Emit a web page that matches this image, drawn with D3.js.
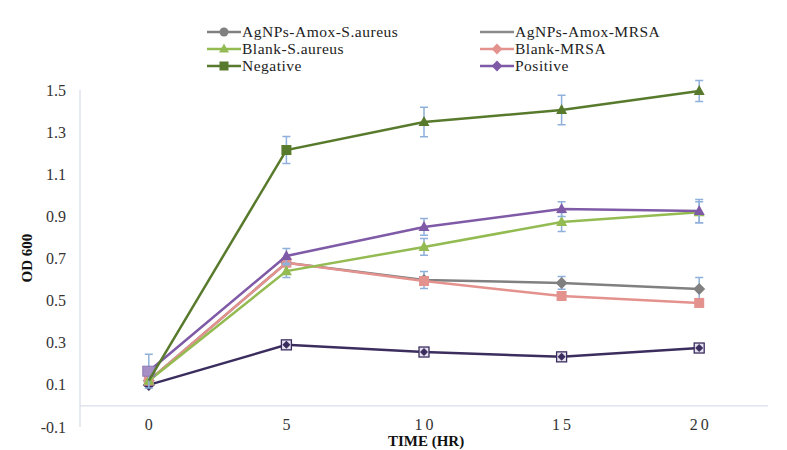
<!DOCTYPE html>
<html><head><meta charset="utf-8">
<script src="https://cdn.jsdelivr.net/npm/d3@7"></script>
<style>
body{margin:0;background:#fff;}
svg{display:block;font-family:"Liberation Serif","Times New Roman",serif;}
</style></head>
<body><svg id="c" width="787" height="450"></svg>
<script>
const categories = ["0","5","10","15","20"];
const yTicks = [-0.1,0.1,0.3,0.5,0.7,0.9,1.1,1.3,1.5];
const seriesNames = ["AgNPs-Amox-S.aureus","AgNPs-Amox-MRSA","Blank-S.aureus","Blank-MRSA","Negative","Positive"];
const agSaValues   = [0.12, 0.68, 0.598, 0.584, 0.555];
const agMrsaValues = [0.10, 0.29, 0.256, 0.233, 0.275];
const blankSaValues   = [0.12, 0.64, 0.755, 0.873, 0.92];
const blankMrsaValues = [0.12, 0.68, 0.593, 0.522, 0.489];
const negativeValues  = [0.12, 1.215, 1.348, 1.405, 1.495];
const positiveValues  = [0.165, 0.712, 0.85, 0.935, 0.925];
const agSaErr    = [0, 0, 0.04, 0.03, 0.055];
const agMrsaErr  = [0, 0, 0, 0, 0];
const blankSaErr = [0, 0.03, 0.04, 0.045, 0.05];
const blankMrsaErr = [0, 0, 0, 0, 0];
const negativeErr  = [0, 0.064, 0.07, 0.07, 0.05];
const positiveErr  = [0.08, 0.035, 0.04, 0.035, 0.055];

const series = [
  {name:seriesNames[1], values:agMrsaValues, err:agMrsaErr, color:"#3b2d5e", legendColor:"#8a8a8a", legendMarker:null, marker:["diamond","boxdot","boxdot","boxdot","boxdot"], width:2.5},
  {name:seriesNames[0], values:agSaValues, err:agSaErr, color:"#808080", legendColor:"#808080", legendMarker:"circle", marker:["diamond","diamond","diamond","diamond","diamond"], width:2.5},
  {name:seriesNames[3], values:blankMrsaValues, err:blankMrsaErr, color:"#e3928e", legendColor:"#e3928e", legendMarker:"diamond", marker:["square","square","square","square","square"], width:2.5},
  {name:seriesNames[2], values:blankSaValues, err:blankSaErr, color:"#93bb52", legendColor:"#93bb52", legendMarker:"triangle", marker:["triangle","triangle","triangle","triangle","triangle"], width:2.5},
  {name:seriesNames[5], values:positiveValues, err:positiveErr, color:"#7f5aa6", legendColor:"#7f5aa6", legendMarker:"diamond", marker:["boxlite","triangle","triangle","triangle","triangle"], width:2.5},
  {name:seriesNames[4], values:negativeValues, err:negativeErr, color:"#587a2c", legendColor:"#587a2c", legendMarker:"square", marker:["none","square","triangle","triangle","triangle"], width:2.5}
];

const svg = d3.select("#c");
const x = d3.scaleBand().domain(categories).range([80,768]);
const y = d3.scaleLinear().domain([-0.1,1.5]).range([427,90]);
const cx = c => x(c) + x.bandwidth()/2;

svg.append("line").attr("x1",80).attr("x2",80).attr("y1",y(1.5)).attr("y2",y(-0.1)).attr("stroke","#d8dee8").attr("stroke-width",1.3);
svg.append("line").attr("x1",80).attr("x2",768).attr("y1",y(0)).attr("y2",y(0)).attr("stroke","#d8dee8").attr("stroke-width",1.3);

svg.append("g").selectAll("text").data(yTicks).join("text")
  .attr("x",66).attr("y",d=>y(d)).attr("dy","0.35em").attr("text-anchor","end")
  .attr("font-size",16).attr("fill","#333").text(d=>d.toFixed(1));

svg.append("g").selectAll("text").data(categories).join("text")
  .attr("x",d=>cx(d)+(d.length>1?1.5:0)).attr("y",430).attr("text-anchor","middle")
  .attr("font-size",16).attr("fill","#333").attr("letter-spacing",d=>d.length>1?"3px":"0").text(d=>d);

svg.append("text").attr("x",426).attr("y",446).attr("text-anchor","middle").attr("font-size",15).attr("font-weight","bold").attr("fill","#111").text("TIME (HR)");
svg.append("text").attr("transform","translate(32,258) rotate(-90)").attr("text-anchor","middle").attr("font-size",15).attr("font-weight","bold").attr("fill","#111").text("OD 600");

function marker(g, type, px, py, color, s){
  if(type==="square"){
    g.append("rect").attr("x",px-s).attr("y",py-s).attr("width",2*s).attr("height",2*s).attr("fill",color);
  } else if(type==="triangle"){
    g.append("path").attr("d",`M${px},${py-s*1.2}L${px+s*1.1},${py+s*0.8}L${px-s*1.1},${py+s*0.8}Z`).attr("fill",color);
  } else if(type==="diamond"){
    g.append("path").attr("d",`M${px},${py-s*1.2}L${px+s*1.2},${py}L${px},${py+s*1.2}L${px-s*1.2},${py}Z`).attr("fill",color);
  } else if(type==="circle"){
    g.append("circle").attr("cx",px).attr("cy",py).attr("r",s).attr("fill",color);
  } else if(type==="boxdot"){
    g.append("rect").attr("x",px-s).attr("y",py-s).attr("width",2*s).attr("height",2*s).attr("fill","#e6e2f0").attr("stroke",color).attr("stroke-width",1.3);
    g.append("path").attr("d",`M${px},${py-s*0.8}L${px+s*0.8},${py}L${px},${py+s*0.8}L${px-s*0.8},${py}Z`).attr("fill",color);
  } else if(type==="boxlite"){
    g.append("rect").attr("x",px-s-1).attr("y",py-s).attr("width",2*s+2).attr("height",2*s).attr("fill","#a58fc4").attr("stroke","#8c78b4").attr("stroke-width",1);
  }
}

const line = d3.line().x((d,i)=>cx(categories[i])).y(d=>y(d));
const plot = svg.append("g");
series.forEach(s=>{
  const g = plot.append("g");
  s.values.forEach((v,i)=>{
    if(s.err[i]>0){
      const px = cx(categories[i]);
      g.append("path").attr("d",`M${px},${y(v+s.err[i])}V${y(v-s.err[i])}M${px-4},${y(v+s.err[i])}H${px+4}M${px-4},${y(v-s.err[i])}H${px+4}`)
        .attr("stroke","#8fb0da").attr("stroke-width",1.5).attr("fill","none");
    }
  });
  g.append("path").datum(s.values).attr("d",line).attr("fill","none").attr("stroke",s.color).attr("stroke-width",s.width);
  s.values.forEach((v,i)=>marker(g, s.marker[i], cx(categories[i]), y(v), s.color, 5));
});

const legendItems = [
  {s:series[1], col:0,row:0},{s:series[0], col:1,row:0},
  {s:series[3], col:0,row:1},{s:series[2], col:1,row:1},
  {s:series[5], col:0,row:2},{s:series[4], col:1,row:2}
];
const lg = svg.append("g");
legendItems.forEach(it=>{
  const x0 = it.col===0?207:480, yy = 32+it.row*17;
  lg.append("line").attr("x1",x0).attr("x2",x0+34).attr("y1",yy).attr("y2",yy).attr("stroke",it.s.legendColor).attr("stroke-width",2.5);
  if(it.s.legendMarker) marker(lg, it.s.legendMarker, x0+17, yy, it.s.legendColor, 4.5);
  lg.append("text").attr("x",x0+35).attr("y",yy).attr("dy","0.35em").attr("font-size",15.5).attr("letter-spacing","0.5px").attr("fill","#222").text(it.s.name);
});
</script></body></html>
